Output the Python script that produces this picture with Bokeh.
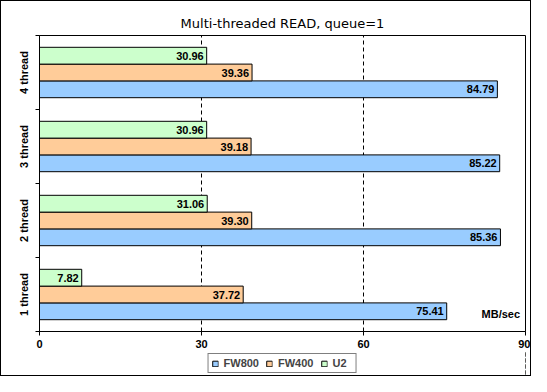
from bokeh.plotting import figure
from bokeh.layouts import column
from bokeh.models import ColumnDataSource, Range1d, FixedTicker, Legend, LegendItem, Label
from bokeh.transform import dodge
from bokeh.core.properties import value
from bokeh.embed import file_html
from bokeh.resources import INLINE

categories = ["1 thread", "2 thread", "3 thread", "4 thread"]
series_names = ["FW800", "FW400", "U2"]
fw800 = [75.41, 85.36, 85.22, 84.79]
fw400 = [37.72, 39.30, 39.18, 39.36]
u2 = [7.82, 31.06, 30.96, 30.96]
x_ticks = [0, 30, 60, 90]
colors = ["#99CCFF", "#FFCC99", "#CCFFCC"]
offsets = [-0.227, 0.0, 0.227]
bar_h = 0.227

pos = [i + 0.5 for i in range(len(categories))]
series_vals = [fw800, fw400, u2]
data = dict(pos=pos, cat=categories)
for name, vals in zip(series_names, series_vals):
    data[name] = vals
    data[name + "_lab"] = [f"{v:.2f}" for v in vals]
source = ColumnDataSource(data)

BOLD = "Liberation Sans"

p = figure(width=529, height=350, x_range=Range1d(x_ticks[0], x_ticks[-1]),
           y_range=Range1d(0, len(categories)), output_backend="svg",
           toolbar_location=None, title="Multi-threaded READ, queue=1",
           min_border_left=38, min_border_top=34, min_border_right=5,
           min_border_bottom=20)

p.title.align = "center"
p.title.text_font = "DejaVu Sans"
p.title.text_font_size = "13px"
p.title.text_font_style = "normal"
p.title.text_color = "black"

for name, col, off in zip(series_names, colors, offsets):
    p.hbar(y=dodge("pos", off), right=name, left=0, height=bar_h, source=source,
           fill_color=col, line_color="black", line_width=1)
    p.text(x=name, y=dodge("pos", off), text=name + "_lab", source=source,
           x_offset=-3, text_align="right", text_baseline="middle",
           text_font=value(BOLD), text_font_style="bold", text_font_size="11px",
           text_color="black")

p.outline_line_color = "black"
p.outline_line_alpha = 1
p.outline_line_width = 1

p.xgrid.ticker = FixedTicker(ticks=x_ticks[1:-1])
p.xgrid.grid_line_color = "black"
p.xgrid.grid_line_dash = "4 3"
p.ygrid.visible = False

xa = p.xaxis[0]
xa.ticker = FixedTicker(ticks=x_ticks)
xa.major_tick_in = 0
xa.major_tick_out = 4
xa.minor_tick_line_color = None
xa.axis_line_color = "black"
xa.major_label_standoff = 4
xa.major_label_text_font = BOLD
xa.major_label_text_font_style = "bold"
xa.major_label_text_font_size = "11px"
xa.major_label_text_color = "black"

ya = p.yaxis[0]
ya.ticker = FixedTicker(ticks=pos, minor_ticks=list(range(len(categories) + 1)))
ya.major_tick_line_color = None
ya.minor_tick_in = 0
ya.minor_tick_out = 4
ya.minor_tick_line_color = "black"
ya.axis_line_color = "black"
ya.major_label_overrides = {pv: c for pv, c in zip(pos, categories)}
ya.major_label_orientation = "vertical"
ya.major_label_standoff = 4
ya.major_label_text_font = BOLD
ya.major_label_text_font_style = "bold"
ya.major_label_text_font_size = "11px"
ya.major_label_text_color = "black"

p.add_layout(Label(x=89, y=0.23, text="MB/sec", text_align="right", text_baseline="middle",
                   text_font=BOLD, text_font_style="bold", text_font_size="11px",
                   text_color="black"))

# legend strip below the chart; its bars lie outside the strip's view range,
# so only the legend swatches are shown
lf = figure(width=529, height=24, output_backend="svg", toolbar_location=None,
            x_range=Range1d(-2 * x_ticks[-1], -x_ticks[-1]), y_range=Range1d(0, len(categories)),
            min_border=0, min_border_left=0, min_border_right=0,
            min_border_top=0, min_border_bottom=0,
            x_axis_type=None, y_axis_type=None, outline_line_color=None)
lf.xgrid.visible = False
lf.ygrid.visible = False
items = []
for name, col, off in zip(series_names, colors, offsets):
    r = lf.hbar(y=dodge("pos", off), right=name, left=0, height=bar_h, source=source,
                fill_color=col, line_color="black", line_width=1)
    items.append(LegendItem(label=name, renderers=[r]))
legend = Legend(items=items, orientation="horizontal", location="center",
                glyph_width=7, glyph_height=7, label_standoff=5, spacing=7,
                padding=3, margin=0, border_line_color="black", border_line_width=1,
                label_text_font=BOLD, label_text_font_style="bold",
                label_text_font_size="11px", label_height=12,
                background_fill_color="white", background_fill_alpha=1)
lf.add_layout(legend)

layout = column(p, lf, spacing=0, styles={"border": "1px solid black"})
open("out.html", "w").write(file_html(layout, INLINE))
